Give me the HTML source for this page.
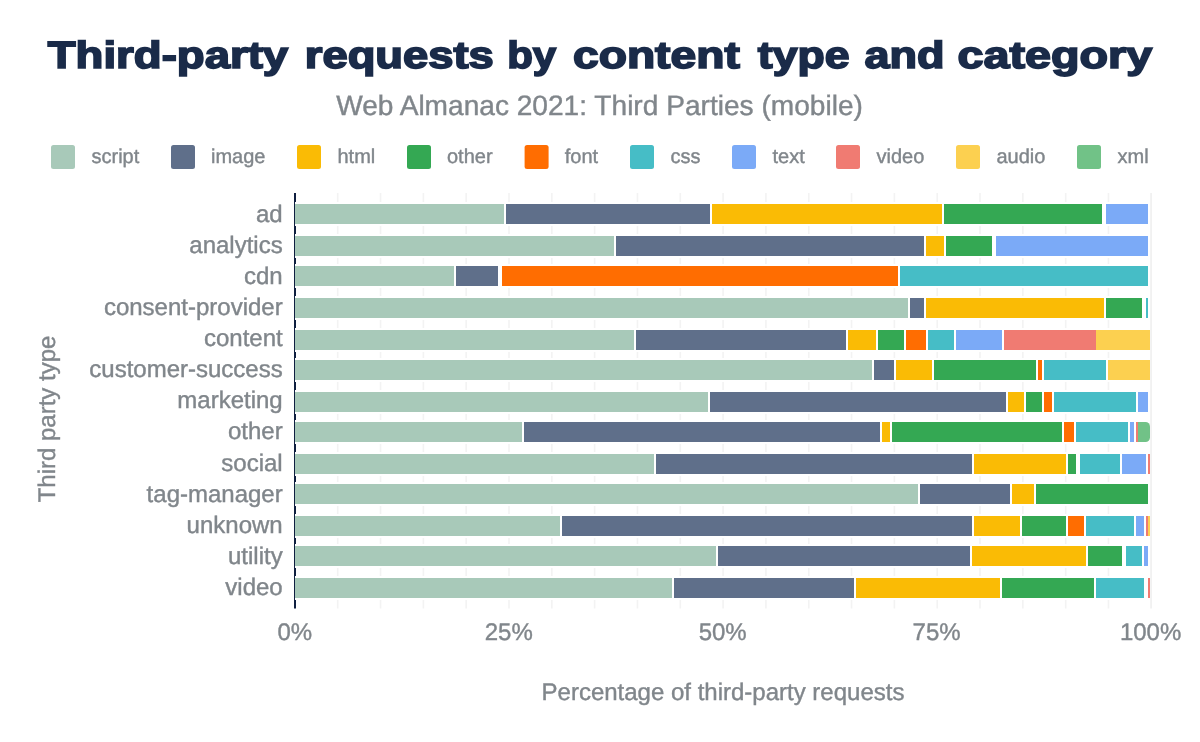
<!DOCTYPE html>
<html lang="en"><head><meta charset="utf-8"><title>Third-party requests by content type and category</title>
<style>html,body{margin:0;padding:0;background:#fff;}body{width:1200px;height:742px;overflow:hidden;}svg{display:block;will-change:transform;}text{font-family:"Liberation Sans",sans-serif;text-rendering:geometricPrecision;}.g{fill:#80868b;stroke:#80868b;stroke-width:0.4px;}</style></head><body>
<svg width="1200" height="742" viewBox="0 0 1200 742">
<rect x="0" y="0" width="1200" height="742" fill="#ffffff"/>
<text x="47.80" y="67.9" font-size="37.9" font-weight="bold" fill="#1a2b49" stroke="#1a2b49" stroke-width="1.7" stroke-linejoin="miter" textLength="240.40" lengthAdjust="spacingAndGlyphs">Third-party</text>
<text x="304.80" y="67.9" font-size="37.9" font-weight="bold" fill="#1a2b49" stroke="#1a2b49" stroke-width="1.7" stroke-linejoin="miter" textLength="189.00" lengthAdjust="spacingAndGlyphs">requests</text>
<text x="507.20" y="67.9" font-size="37.9" font-weight="bold" fill="#1a2b49" stroke="#1a2b49" stroke-width="1.7" stroke-linejoin="miter" textLength="49.00" lengthAdjust="spacingAndGlyphs">by</text>
<text x="573.00" y="67.9" font-size="37.9" font-weight="bold" fill="#1a2b49" stroke="#1a2b49" stroke-width="1.7" stroke-linejoin="miter" textLength="166.80" lengthAdjust="spacingAndGlyphs">content</text>
<text x="757.80" y="67.9" font-size="37.9" font-weight="bold" fill="#1a2b49" stroke="#1a2b49" stroke-width="1.7" stroke-linejoin="miter" textLength="91.80" lengthAdjust="spacingAndGlyphs">type</text>
<text x="864.60" y="67.9" font-size="37.9" font-weight="bold" fill="#1a2b49" stroke="#1a2b49" stroke-width="1.7" stroke-linejoin="miter" textLength="80.00" lengthAdjust="spacingAndGlyphs">and</text>
<text x="957.60" y="67.9" font-size="37.9" font-weight="bold" fill="#1a2b49" stroke="#1a2b49" stroke-width="1.7" stroke-linejoin="miter" textLength="194.60" lengthAdjust="spacingAndGlyphs">category</text>
<text x="599.5" y="115" font-size="28.1" class="g" text-anchor="middle">Web Almanac 2021: Third Parties (mobile)</text>
<rect x="51" y="145" width="24" height="24" rx="2.5" ry="2.5" fill="#a8c9b9"/>
<text x="91.5" y="162.5" font-size="20" class="g">script</text>
<rect x="171" y="145" width="24" height="24" rx="2.5" ry="2.5" fill="#5f6f8a"/>
<text x="211" y="162.5" font-size="20" class="g">image</text>
<rect x="297" y="145" width="24" height="24" rx="2.5" ry="2.5" fill="#fabb05"/>
<text x="337.5" y="162.5" font-size="20" class="g">html</text>
<rect x="407" y="145" width="24" height="24" rx="2.5" ry="2.5" fill="#34a853"/>
<text x="447" y="162.5" font-size="20" class="g">other</text>
<rect x="524.6" y="145" width="24" height="24" rx="2.5" ry="2.5" fill="#ff6d01"/>
<text x="564.8" y="162.5" font-size="20" class="g">font</text>
<rect x="630" y="145" width="24" height="24" rx="2.5" ry="2.5" fill="#46bdc6"/>
<text x="670.5" y="162.5" font-size="20" class="g">css</text>
<rect x="732" y="145" width="24" height="24" rx="2.5" ry="2.5" fill="#7baaf7"/>
<text x="772.5" y="162.5" font-size="20" class="g">text</text>
<rect x="836" y="145" width="24" height="24" rx="2.5" ry="2.5" fill="#f07b72"/>
<text x="876.5" y="162.5" font-size="20" class="g">video</text>
<rect x="956" y="145" width="24" height="24" rx="2.5" ry="2.5" fill="#fcd050"/>
<text x="996.5" y="162.5" font-size="20" class="g">audio</text>
<rect x="1077" y="145" width="24" height="24" rx="2.5" ry="2.5" fill="#71c287"/>
<text x="1117.5" y="162.5" font-size="20" class="g">xml</text>
<g fill="#f3f3f3">
<rect x="336.92" y="193" width="1.6" height="415.5"/>
<rect x="379.74" y="193" width="1.6" height="415.5"/>
<rect x="422.56" y="193" width="1.6" height="415.5"/>
<rect x="465.38" y="193" width="1.6" height="415.5"/>
<rect x="508.20" y="193" width="1.6" height="415.5"/>
<rect x="551.02" y="193" width="1.6" height="415.5"/>
<rect x="593.84" y="193" width="1.6" height="415.5"/>
<rect x="636.66" y="193" width="1.6" height="415.5"/>
<rect x="679.48" y="193" width="1.6" height="415.5"/>
<rect x="722.30" y="193" width="1.6" height="415.5"/>
<rect x="765.12" y="193" width="1.6" height="415.5"/>
<rect x="807.94" y="193" width="1.6" height="415.5"/>
<rect x="850.76" y="193" width="1.6" height="415.5"/>
<rect x="893.58" y="193" width="1.6" height="415.5"/>
<rect x="936.40" y="193" width="1.6" height="415.5"/>
<rect x="979.22" y="193" width="1.6" height="415.5"/>
<rect x="1022.04" y="193" width="1.6" height="415.5"/>
<rect x="1064.86" y="193" width="1.6" height="415.5"/>
<rect x="1107.68" y="193" width="1.6" height="415.5"/>
</g>
<rect x="1150.3" y="193" width="1.5" height="415.5" fill="#eeeeee"/>
<rect x="294" y="193" width="2" height="415.5" fill="#0f1f40"/>
<rect x="295" y="202" width="855" height="24" fill="#ffffff"/>
<rect x="295" y="204" width="209" height="20" fill="#a8c9b9"/>
<rect x="506" y="204" width="204" height="20" fill="#5f6f8a"/>
<rect x="712" y="204" width="230" height="20" fill="#fabb05"/>
<rect x="944" y="204" width="158" height="20" fill="#34a853"/>
<rect x="1106" y="204" width="42" height="20" fill="#7baaf7"/>
<text x="282.7" y="221.60" font-size="24" class="g" text-anchor="end">ad</text>
<rect x="295" y="234" width="855" height="24" fill="#ffffff"/>
<rect x="295" y="236" width="319" height="20" fill="#a8c9b9"/>
<rect x="616" y="236" width="308" height="20" fill="#5f6f8a"/>
<rect x="926" y="236" width="18" height="20" fill="#fabb05"/>
<rect x="946" y="236" width="46" height="20" fill="#34a853"/>
<rect x="996" y="236" width="152" height="20" fill="#7baaf7"/>
<text x="282.7" y="252.72" font-size="24" class="g" text-anchor="end">analytics</text>
<rect x="295" y="264" width="855" height="24" fill="#ffffff"/>
<rect x="295" y="266" width="159" height="20" fill="#a8c9b9"/>
<rect x="456" y="266" width="42" height="20" fill="#5f6f8a"/>
<rect x="502" y="266" width="396" height="20" fill="#ff6d01"/>
<rect x="900" y="266" width="248" height="20" fill="#46bdc6"/>
<text x="282.7" y="283.84" font-size="24" class="g" text-anchor="end">cdn</text>
<rect x="295" y="296" width="855" height="24" fill="#ffffff"/>
<rect x="295" y="298" width="613" height="20" fill="#a8c9b9"/>
<rect x="910" y="298" width="14" height="20" fill="#5f6f8a"/>
<rect x="926" y="298" width="178" height="20" fill="#fabb05"/>
<rect x="1106" y="298" width="36" height="20" fill="#34a853"/>
<rect x="1146" y="298" width="2" height="20" fill="#46bdc6"/>
<text x="282.7" y="314.96" font-size="24" class="g" text-anchor="end">consent-provider</text>
<rect x="295" y="328" width="855" height="24" fill="#ffffff"/>
<rect x="295" y="330" width="339" height="20" fill="#a8c9b9"/>
<rect x="636" y="330" width="210" height="20" fill="#5f6f8a"/>
<rect x="848" y="330" width="28" height="20" fill="#fabb05"/>
<rect x="878" y="330" width="26" height="20" fill="#34a853"/>
<rect x="906" y="330" width="20" height="20" fill="#ff6d01"/>
<rect x="928" y="330" width="26" height="20" fill="#46bdc6"/>
<rect x="956" y="330" width="46" height="20" fill="#7baaf7"/>
<rect x="1004" y="330" width="92" height="20" fill="#f07b72"/>
<rect x="1096" y="330" width="54" height="20" fill="#fcd050"/>
<text x="282.7" y="346.08" font-size="24" class="g" text-anchor="end">content</text>
<rect x="295" y="358" width="855" height="24" fill="#ffffff"/>
<rect x="295" y="360" width="577" height="20" fill="#a8c9b9"/>
<rect x="874" y="360" width="20" height="20" fill="#5f6f8a"/>
<rect x="896" y="360" width="36" height="20" fill="#fabb05"/>
<rect x="934" y="360" width="102" height="20" fill="#34a853"/>
<rect x="1038" y="360" width="4" height="20" fill="#ff6d01"/>
<rect x="1044" y="360" width="62" height="20" fill="#46bdc6"/>
<rect x="1108" y="360" width="42" height="20" fill="#fcd050"/>
<text x="282.7" y="377.20" font-size="24" class="g" text-anchor="end">customer-success</text>
<rect x="295" y="390" width="855" height="24" fill="#ffffff"/>
<rect x="295" y="392" width="413" height="20" fill="#a8c9b9"/>
<rect x="710" y="392" width="296" height="20" fill="#5f6f8a"/>
<rect x="1008" y="392" width="16" height="20" fill="#fabb05"/>
<rect x="1026" y="392" width="16" height="20" fill="#34a853"/>
<rect x="1044" y="392" width="8" height="20" fill="#ff6d01"/>
<rect x="1054" y="392" width="82" height="20" fill="#46bdc6"/>
<rect x="1138" y="392" width="10" height="20" fill="#7baaf7"/>
<text x="282.7" y="408.32" font-size="24" class="g" text-anchor="end">marketing</text>
<rect x="295" y="420" width="855" height="24" fill="#ffffff"/>
<rect x="295" y="422" width="227" height="20" fill="#a8c9b9"/>
<rect x="524" y="422" width="356" height="20" fill="#5f6f8a"/>
<rect x="882" y="422" width="8" height="20" fill="#fabb05"/>
<rect x="892" y="422" width="170" height="20" fill="#34a853"/>
<rect x="1064" y="422" width="10" height="20" fill="#ff6d01"/>
<rect x="1076" y="422" width="52" height="20" fill="#46bdc6"/>
<rect x="1130" y="422" width="4" height="20" fill="#7baaf7"/>
<rect x="1136" y="422" width="2" height="20" fill="#f07b72"/>
<path d="M1138 422H1145.5a4.5 4.5 0 0 1 4.5 4.5V437.5a4.5 4.5 0 0 1 -4.5 4.5H1138Z" fill="#71c287"/>
<text x="282.7" y="439.44" font-size="24" class="g" text-anchor="end">other</text>
<rect x="295" y="452" width="855" height="24" fill="#ffffff"/>
<rect x="295" y="454" width="359" height="20" fill="#a8c9b9"/>
<rect x="656" y="454" width="316" height="20" fill="#5f6f8a"/>
<rect x="974" y="454" width="92" height="20" fill="#fabb05"/>
<rect x="1068" y="454" width="8" height="20" fill="#34a853"/>
<rect x="1080" y="454" width="40" height="20" fill="#46bdc6"/>
<rect x="1122" y="454" width="24" height="20" fill="#7baaf7"/>
<rect x="1148" y="454" width="2" height="20" fill="#f07b72"/>
<text x="282.7" y="470.56" font-size="24" class="g" text-anchor="end">social</text>
<rect x="295" y="482" width="855" height="24" fill="#ffffff"/>
<rect x="295" y="484" width="623" height="20" fill="#a8c9b9"/>
<rect x="920" y="484" width="90" height="20" fill="#5f6f8a"/>
<rect x="1012" y="484" width="22" height="20" fill="#fabb05"/>
<rect x="1036" y="484" width="112" height="20" fill="#34a853"/>
<text x="282.7" y="501.68" font-size="24" class="g" text-anchor="end">tag-manager</text>
<rect x="295" y="514" width="855" height="24" fill="#ffffff"/>
<rect x="295" y="516" width="265" height="20" fill="#a8c9b9"/>
<rect x="562" y="516" width="410" height="20" fill="#5f6f8a"/>
<rect x="974" y="516" width="46" height="20" fill="#fabb05"/>
<rect x="1022" y="516" width="44" height="20" fill="#34a853"/>
<rect x="1068" y="516" width="16" height="20" fill="#ff6d01"/>
<rect x="1086" y="516" width="48" height="20" fill="#46bdc6"/>
<rect x="1136" y="516" width="8" height="20" fill="#7baaf7"/>
<rect x="1146" y="516" width="2" height="20" fill="#f07b72"/>
<rect x="1148" y="516" width="2" height="20" fill="#fcd050"/>
<text x="282.7" y="532.80" font-size="24" class="g" text-anchor="end">unknown</text>
<rect x="295" y="544" width="855" height="24" fill="#ffffff"/>
<rect x="295" y="546" width="421" height="20" fill="#a8c9b9"/>
<rect x="718" y="546" width="252" height="20" fill="#5f6f8a"/>
<rect x="972" y="546" width="114" height="20" fill="#fabb05"/>
<rect x="1088" y="546" width="34" height="20" fill="#34a853"/>
<rect x="1126" y="546" width="16" height="20" fill="#46bdc6"/>
<rect x="1144" y="546" width="4" height="20" fill="#7baaf7"/>
<text x="282.7" y="563.92" font-size="24" class="g" text-anchor="end">utility</text>
<rect x="295" y="576" width="855" height="24" fill="#ffffff"/>
<rect x="295" y="578" width="377" height="20" fill="#a8c9b9"/>
<rect x="674" y="578" width="180" height="20" fill="#5f6f8a"/>
<rect x="856" y="578" width="144" height="20" fill="#fabb05"/>
<rect x="1002" y="578" width="92" height="20" fill="#34a853"/>
<rect x="1096" y="578" width="48" height="20" fill="#46bdc6"/>
<rect x="1148" y="578" width="2" height="20" fill="#f07b72"/>
<text x="282.7" y="595.04" font-size="24" class="g" text-anchor="end">video</text>
<text x="294.8" y="640" font-size="24" class="g" text-anchor="middle">0%</text>
<text x="508.8" y="640" font-size="24" class="g" text-anchor="middle">25%</text>
<text x="722.7" y="640" font-size="24" class="g" text-anchor="middle">50%</text>
<text x="936.6" y="640" font-size="24" class="g" text-anchor="middle">75%</text>
<text x="1150.6" y="640" font-size="24" class="g" text-anchor="middle">100%</text>
<text x="723" y="700" font-size="24" class="g" text-anchor="middle">Percentage of third-party requests</text>
<text transform="translate(55 419) rotate(-90)" font-size="24" class="g" text-anchor="middle">Third party type</text>
</svg></body></html>
